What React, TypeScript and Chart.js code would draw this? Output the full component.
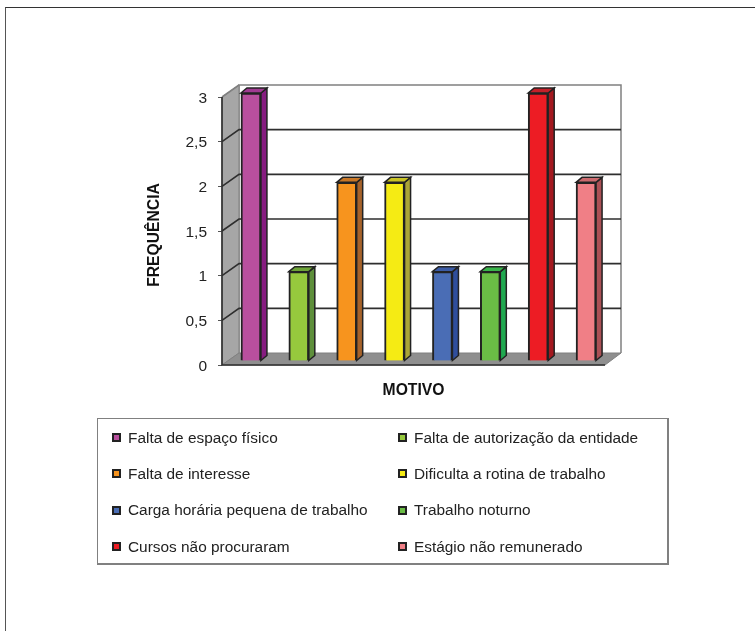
import React, { useEffect, useRef } from "react";
import { Chart, registerables } from "chart.js";

Chart.register(...registerables);

const categories = [
  "Falta de espaço físico",
  "Falta de autorização da entidade",
  "Falta de interesse",
  "Dificulta a rotina de trabalho",
  "Carga horária pequena de trabalho",
  "Trabalho noturno",
  "Cursos não procuraram",
  "Estágio não remunerado",
];
const frequencies = [3, 1, 2, 2, 1, 1, 3, 2];
const faceColors = ["#B94F9E", "#96C93D", "#F7941E", "#F5EB14", "#4A6DB5", "#6ABD45", "#ED1C24", "#F07F86"];
const sideColors = ["#861C80", "#5E8F3B", "#A5622A", "#ABA537", "#2F4E9C", "#1FA84F", "#A3181F", "#AB5055"];
const topColors = ["#A13A92", "#6DA437", "#C87726", "#C9C325", "#3C5CA6", "#39B54A", "#C4202A", "#CC6A6E"];
const yTicks = [0, 0.5, 1, 1.5, 2, 2.5, 3];

const FONT = '"Liberation Sans", Arial, sans-serif';
const WALL_DX = 17;
const WALL_DY = 12;
const BAR_SHIFT_X = 5;
const BAR_SHIFT_Y = 4;
const BAR_DX = 6;
const BAR_DY = 5;
const INK = "#222222";
const TITLE_SHIFT = 4;

function poly(ctx: CanvasRenderingContext2D, pts: number[][], fill: string, stroke: string, lw: number) {
  ctx.beginPath();
  pts.forEach(([x, y], i) => (i ? ctx.lineTo(x, y) : ctx.moveTo(x, y)));
  ctx.closePath();
  ctx.fillStyle = fill;
  ctx.fill();
  ctx.lineWidth = lw;
  ctx.strokeStyle = stroke;
  ctx.stroke();
}

const box3d = {
  id: "box3d",
  beforeDatasetsDraw(chart: any) {
    const { ctx, chartArea: a, scales } = chart;
    const y = scales.y;
    const bl = a.left + WALL_DX;
    const br = a.right + 16;
    ctx.save();
    // back wall
    ctx.beginPath();
    ctx.moveTo(bl, a.bottom - WALL_DY);
    ctx.lineTo(bl, a.top - WALL_DY);
    ctx.lineTo(br, a.top - WALL_DY);
    ctx.lineTo(br, a.bottom - WALL_DY);
    ctx.lineWidth = 1.5;
    ctx.strokeStyle = "#808080";
    ctx.stroke();
    // side wall
    poly(
      ctx,
      [[a.left, a.top], [bl, a.top - WALL_DY], [bl, a.bottom - WALL_DY], [a.left, a.bottom]],
      "#A6A6A6",
      "#808080",
      1
    );
    // floor
    poly(
      ctx,
      [[a.left, a.bottom], [bl, a.bottom - WALL_DY], [br, a.bottom - WALL_DY], [a.right, a.bottom]],
      "#8F8F8F",
      "#808080",
      1
    );
    // grid lines
    yTicks.forEach((v) => {
      if (v === 0) return;
      const py = y.getPixelForValue(v);
      ctx.beginPath();
      ctx.moveTo(a.left, py);
      ctx.lineTo(bl, py - WALL_DY);
      if (v !== 3) ctx.lineTo(br, py - WALL_DY);
      ctx.lineWidth = 1.6;
      ctx.strokeStyle = v === 3 ? "#808080" : "#2E2E2E";
      ctx.stroke();
    });
    // front edges
    ctx.beginPath();
    ctx.moveTo(a.left, a.top);
    ctx.lineTo(a.left, a.bottom);
    ctx.lineTo(a.right, a.bottom);
    ctx.lineWidth = 1.6;
    ctx.strokeStyle = "#2E2E2E";
    ctx.stroke();
    ctx.restore();
  },
  beforeDatasetDraw(chart: any) {
    chart.ctx.save();
    chart.ctx.translate(BAR_SHIFT_X, -BAR_SHIFT_Y);
  },
  afterDatasetDraw(chart: any) {
    const ctx = chart.ctx;
    chart.getDatasetMeta(0).data.forEach((bar: any, i: number) => {
      const p = bar.getProps(["x", "y", "base", "width"], true);
      const l = p.x - p.width / 2;
      const r = p.x + p.width / 2;
      poly(ctx, [[r, p.y], [r + BAR_DX, p.y - BAR_DY], [r + BAR_DX, p.base - BAR_DY], [r, p.base]], sideColors[i], INK, 1.5);
      poly(ctx, [[l, p.y], [l + BAR_DX, p.y - BAR_DY], [r + BAR_DX, p.y - BAR_DY], [r, p.y]], topColors[i], INK, 1.5);
    });
    ctx.restore();
  },
};

export default function App() {
  const ref = useRef<HTMLCanvasElement>(null);
  useEffect(() => {
    const chart = new Chart(ref.current as HTMLCanvasElement, {
      type: "bar",
      data: {
        labels: categories,
        datasets: [
          {
            data: frequencies,
            backgroundColor: faceColors,
            borderColor: INK,
            borderWidth: 2,
            barThickness: 20,
          },
        ],
      },
      plugins: [box3d],
      options: {
        animation: false,
        responsive: false,
        layout: { padding: { left: 145, top: 97, right: 150, bottom: 226 } },
        plugins: { legend: { display: false }, tooltip: { enabled: false } },
        scales: {
          x: {
            grid: { display: false },
            border: { display: false },
            ticks: { display: false },
            afterFit: (s: any) => {
              s.height = 40;
            },
            title: {
              display: true,
              text: "MOTIVO",
              color: "#111111",
              font: { family: FONT, size: 15.7, weight: "bold" },
              padding: { top: 0, bottom: 5 },
            },
          },
          y: {
            min: 0,
            max: 3,
            afterBuildTicks: (s: any) => {
              s.ticks = yTicks.map((value) => ({ value }));
            },
            grid: { drawOnChartArea: false, color: "#555555", tickLength: 4, lineWidth: 1 },
            border: { display: false },
            ticks: {
              color: INK,
              padding: 11,
              labelOffset: 1.5,
              font: { family: FONT, size: 15.5 },
              callback: (v: any) => String(v).replace(".", ","),
            },
            afterFit: (s: any) => {
              s.width = 77;
              if (!s.__titleShifted) {
                s.__titleShifted = true;
                const drawTitle = s.drawTitle;
                s.drawTitle = function () {
                  s.ctx.save();
                  s.ctx.translate(0, TITLE_SHIFT);
                  drawTitle.call(s);
                  s.ctx.restore();
                };
              }
            },
            title: {
              display: true,
              text: "FREQUÊNCIA",
              color: "#111111",
              font: { family: FONT, size: 15.7, weight: "bold" },
              padding: { top: 0, bottom: 0 },
            },
          },
        },
      },
    } as any);
    return () => chart.destroy();
  }, []);

  return (
    <div style={{ position: "absolute", left: 0, top: 0, width: 755, height: 631, overflow: "hidden", background: "#fff" }}>
      <canvas ref={ref} width={755} height={631} style={{ position: "absolute", left: 0, top: 0, display: "block" }} />
      <div style={{ position: "absolute", left: 5, top: 7, width: 760, height: 640, boxSizing: "border-box", borderTop: "1.5px solid #333", borderLeft: "1.5px solid #555" }} />
      <div
        style={{
          position: "absolute",
          left: 97,
          top: 418,
          width: 572,
          height: 147,
          boxSizing: "border-box",
          border: "1px solid #808080",
          borderWidth: "1px 2px 2px 1px",
          fontFamily: FONT,
          fontSize: 15.4,
          color: INK,
        }}
      >
        {categories.map((c, i) => {
          const col = i % 2;
          const row = (i - col) / 2;
          return (
            <div key={c} style={{ position: "absolute", left: col ? 300 : 14, top: 8.5 + row * 36.4, height: 20, display: "flex", alignItems: "center", whiteSpace: "nowrap" }}>
              <span style={{ width: 9, height: 9, boxSizing: "border-box", border: `2px solid ${INK}`, background: faceColors[i], marginRight: 7 }} />
              {c}
            </div>
          );
        })}
      </div>
    </div>
  );
}
